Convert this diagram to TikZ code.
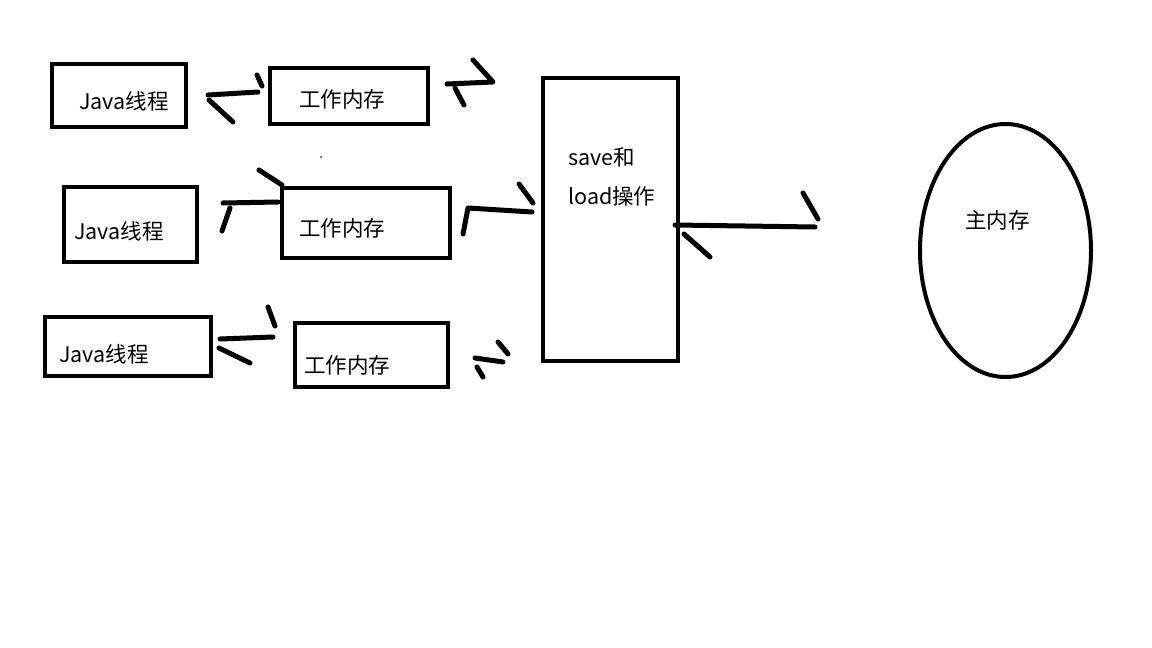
\documentclass[tikz,border=0pt]{standalone}
\usepackage{fontspec}
\usetikzlibrary{shapes.geometric}
\setmainfont{Noto Sans CJK SC}
\begin{document}
\begin{tikzpicture}[x=1pt,y=-1pt,
  box/.style={draw=black,line width=4pt,inner sep=0pt,minimum width=#1},
  lbl/.style={anchor=west,inner sep=0pt,font=\fontsize{21.5}{25}\selectfont},
  stroke/.style={line width=5pt,line cap=round,line join=round}]
\useasboundingbox[fill=white] (0,0) rectangle (1152,648);
% boxes
\node[box=134pt,minimum height=63pt] (j1) at (119,95.5) {};
\node[box=158pt,minimum height=56pt] (w1) at (349,96) {};
\node[box=133pt,minimum height=75pt] (j2) at (130.5,224.5) {};
\node[box=168pt,minimum height=70pt] (w2) at (366,223) {};
\node[box=166pt,minimum height=59pt] (j3) at (128,346.5) {};
\node[box=153pt,minimum height=64pt] (w3) at (371.5,355) {};
\node[box=135pt,minimum height=283pt] (sl) at (610.5,219.5) {};
\node[draw=black,line width=4pt,ellipse,minimum width=171pt,minimum height=253pt,inner sep=0pt] (mm) at (1005.5,250.5) {};
% texts
\node[lbl] (t1) at (79,101) {Java线程};
\node[lbl] (t2) at (299,99) {工作内存};
\node[lbl] (t3) at (74,231) {Java线程};
\node[lbl] (t4) at (299,228) {工作内存};
\node[lbl] (t5) at (59,354) {Java线程};
\node[lbl] (t6) at (304,365) {工作内存};
\node[lbl] (t7) at (568,157) {save和};
\node[lbl] (t8) at (568,196) {load操作};
\node[lbl] (t9) at (965,220) {主内存};
% tiny dot
\fill (321,157) circle (0.8pt);
% hand drawn double arrows
\draw[stroke] (208,95) -- (258,92);
\draw[stroke] (209,100) -- (233,122);
\draw[stroke] (257,75) -- (262,86);
\draw[stroke] (473,60) -- (493,82) -- (447,84);
\draw[stroke] (455,88) -- (464,105);
\draw[stroke] (223,203) -- (278,202);
\draw[stroke] (230,208) -- (222,231);
\draw[stroke] (259,170) -- (282,185);
\draw[stroke] (463,234) -- (468,208) -- (532,212);
\draw[stroke] (519,184) -- (533,203);
\draw[stroke] (220,339) -- (273,337);
\draw[stroke] (219,348) -- (250,363);
\draw[stroke] (268,307) -- (275,326);
\draw[stroke] (475,358) -- (503,362);
\draw[stroke] (477,367) -- (483,377);
\draw[stroke] (498,342) -- (508,354);
\draw[stroke] (675,225) -- (815,227);
\draw[stroke] (803,193) -- (818,219);
\draw[stroke] (684,234) -- (710,257);
\end{tikzpicture}
\end{document}
